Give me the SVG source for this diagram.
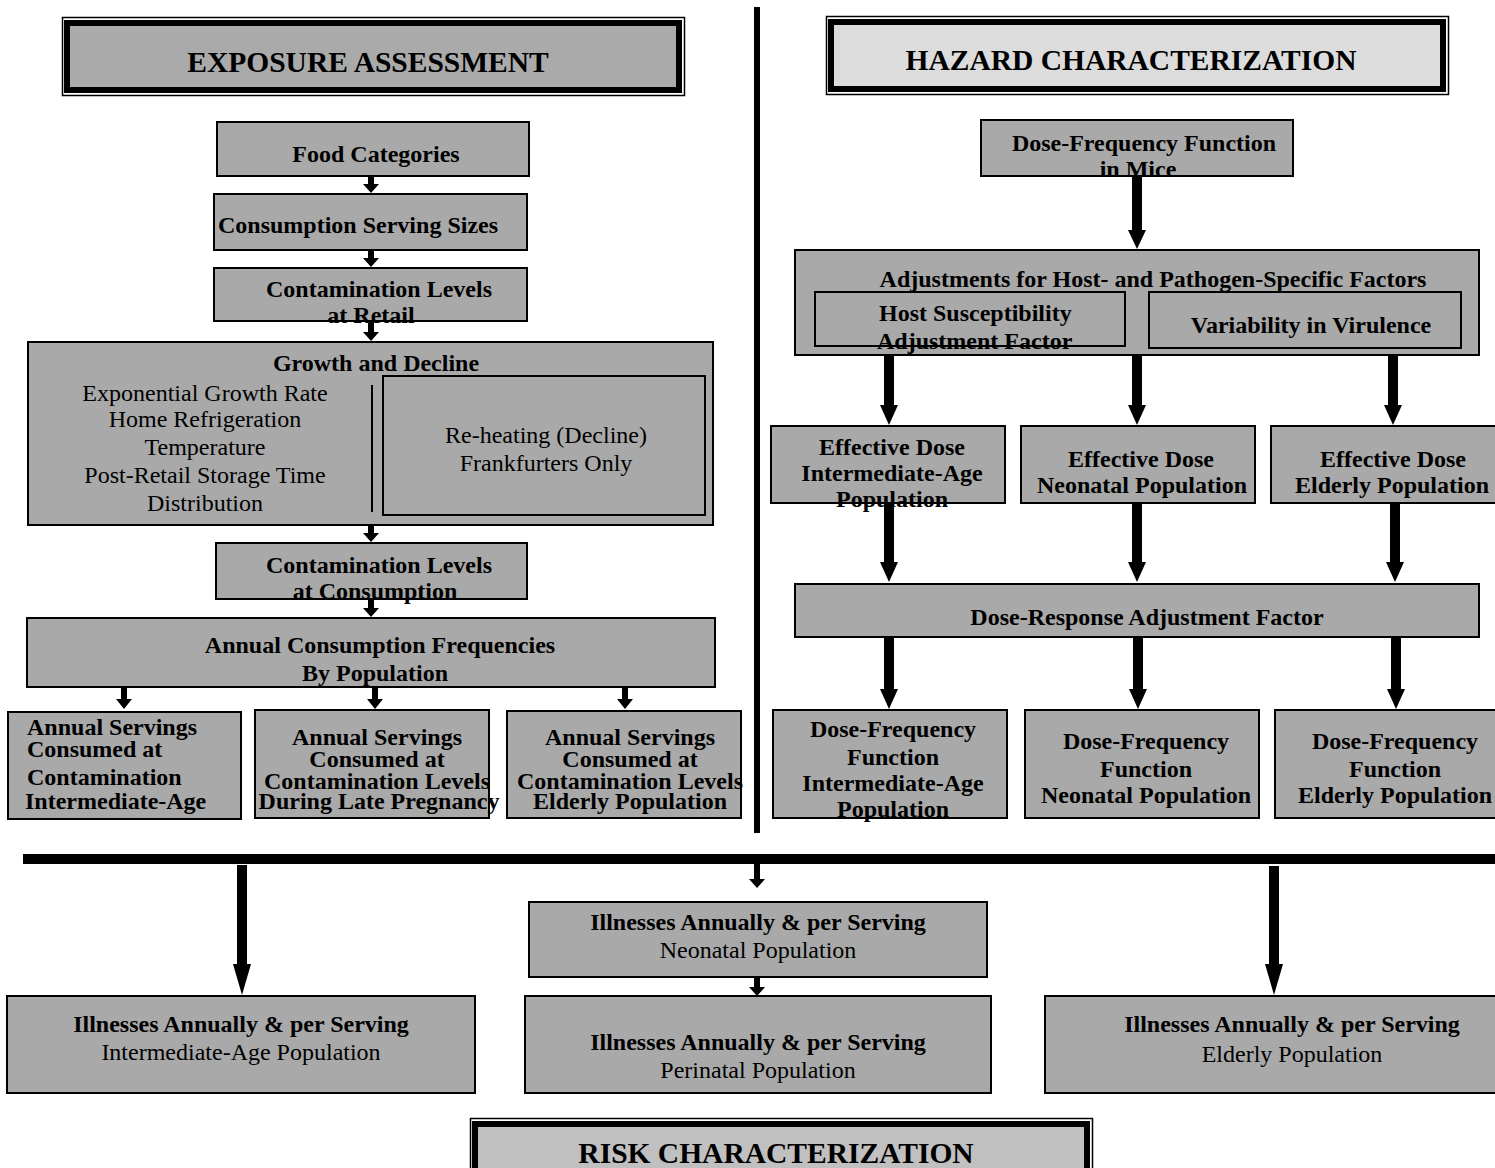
<svg xmlns="http://www.w3.org/2000/svg" width="1495" height="1168" viewBox="0 0 1495 1168">
<style>
.box{fill:#a9a9a9;stroke:#000;stroke-width:2}
.inner{fill:none;stroke:#000;stroke-width:2}
.b{font-family:"Liberation Serif",serif;font-weight:bold;font-size:24px;fill:#000}
.r{font-family:"Liberation Serif",serif;font-size:24px;fill:#000}
.hd{font-family:"Liberation Serif",serif;font-weight:bold;font-size:29.5px;fill:#000}
.c{text-anchor:middle}
.ar{fill:#000}
</style>
<rect width="1495" height="1168" fill="#fff"/>
<g id="connectors">
<rect x="754" y="7" width="6" height="826" class="ar"/>
<rect x="23" y="854" width="1472" height="10" class="ar"/>
<polygon class="ar" points="368,176 374,176 374,184 379,184 371,193 363,184 368,184"/>
<polygon class="ar" points="368,250 374,250 374,258 379,258 371,267 363,258 368,258"/>
<polygon class="ar" points="368,321 374,321 374,332 379,332 371,341 363,332 368,332"/>
<polygon class="ar" points="368,525 374,525 374,533 379,533 371,542 363,533 368,533"/>
<polygon class="ar" points="368,599 374,599 374,608 379,608 371,617 363,608 368,608"/>
<polygon class="ar" points="121,687 127,687 127,699 132,699 124,709 116,699 121,699"/>
<polygon class="ar" points="372,687 378,687 378,699 383,699 375,709 367,699 372,699"/>
<polygon class="ar" points="622,687 628,687 628,699 633,699 625,709 617,699 622,699"/>
<polygon class="ar" points="1132,176 1142,176 1142,230 1146,230 1137,249 1128,230 1132,230"/>
<polygon class="ar" points="884,355 894,355 894,405 898,405 889,425 880,405 884,405"/>
<polygon class="ar" points="1132,355 1142,355 1142,405 1146,405 1137,425 1128,405 1132,405"/>
<polygon class="ar" points="1388,355 1398,355 1398,405 1402,405 1393,425 1384,405 1388,405"/>
<polygon class="ar" points="884,503 894,503 894,562 898,562 889,582 880,562 884,562"/>
<polygon class="ar" points="1132,503 1142,503 1142,562 1146,562 1137,582 1128,562 1132,562"/>
<polygon class="ar" points="1390,503 1400,503 1400,562 1404,562 1395,582 1386,562 1390,562"/>
<polygon class="ar" points="884,637 894,637 894,689 898,689 889,709 880,689 884,689"/>
<polygon class="ar" points="1133,637 1143,637 1143,689 1147,689 1138,709 1129,689 1133,689"/>
<polygon class="ar" points="1391,637 1401,637 1401,689 1405,689 1396,709 1387,689 1391,689"/>
<polygon class="ar" points="237,865 247,865 247,964 251,964 242,995 233,964 237,964"/>
<polygon class="ar" points="1269,866 1279,866 1279,964 1283,964 1274,995 1265,964 1269,964"/>
<polygon class="ar" points="754,854 760,854 760,879 765,879 757,888 749,879 754,879"/>
<polygon class="ar" points="754,977 760,977 760,987 765,987 757,996 749,987 754,987"/>
</g>
<g id="exposure-header">
<rect x="62.5" y="17.5" width="622" height="78" fill="none" stroke="#000" stroke-width="1.5"/>
<rect x="67" y="23" width="612" height="67" fill="#aaa" stroke="#000" stroke-width="6"/>
<text x="368" y="72" class="hd c">EXPOSURE ASSESSMENT</text>
</g>
<g id="hazard-header">
<rect x="826.5" y="16.5" width="622" height="78" fill="none" stroke="#000" stroke-width="1.5"/>
<rect x="831" y="22" width="612" height="67" fill="#dcdcdc" stroke="#000" stroke-width="6"/>
<text x="1131" y="70" class="hd c">HAZARD CHARACTERIZATION</text>
</g>
<g id="food-categories">
<rect x="217" y="122" width="312" height="54" class="box"/>
<text x="376" y="162" class="b c">Food Categories</text>
</g>
<g id="serving-sizes">
<rect x="214" y="194" width="313" height="56" class="box"/>
<text x="218" y="233" class="b">Consumption Serving Sizes</text>
</g>
<g id="contamination-retail">
<rect x="214" y="268" width="313" height="53" class="box"/>
<text x="379" y="297" class="b c">Contamination Levels</text>
<text x="371" y="323" class="b c">at Retail</text>
</g>
<g id="growth-decline">
<rect x="28" y="342" width="685" height="183" class="box"/>
<text x="376" y="371" class="b c">Growth and Decline</text>
<text x="205" y="401" class="r c">Exponential Growth Rate</text>
<text x="205" y="427" class="r c">Home Refrigeration</text>
<text x="205" y="455" class="r c">Temperature</text>
<text x="205" y="483" class="r c">Post-Retail Storage Time</text>
<text x="205" y="511" class="r c">Distribution</text>
<line x1="372" y1="385" x2="372" y2="512" stroke="#000" stroke-width="2"/>
<rect x="383" y="376" width="322" height="139" class="inner"/>
<text x="546" y="443" class="r c">Re-heating (Decline)</text>
<text x="546" y="471" class="r c">Frankfurters Only</text>
</g>
<g id="contamination-consumption">
<rect x="216" y="543" width="311" height="56" class="box"/>
<text x="379" y="573" class="b c">Contamination Levels</text>
<text x="375" y="599" class="b c">at Consumption</text>
</g>
<g id="annual-frequencies">
<rect x="27" y="618" width="688" height="69" class="box"/>
<text x="380" y="653" class="b c">Annual Consumption Frequencies</text>
<text x="375" y="681" class="b c">By Population</text>
</g>
<g id="servings-intermediate">
<rect x="8" y="712" width="233" height="107" class="box"/>
<text x="27" y="735" class="b">Annual Servings</text>
<text x="27" y="757" class="b">Consumed at</text>
<text x="27" y="785" class="b">Contamination</text>
<text x="25" y="809" class="b">Intermediate-Age</text>
</g>
<g id="servings-pregnancy">
<rect x="255" y="710" width="234" height="108" class="box"/>
<text x="377" y="745" class="b c">Annual Servings</text>
<text x="377" y="767" class="b c">Consumed at</text>
<text x="377" y="789" class="b c">Contamination Levels</text>
<text x="379" y="809" class="b c">During Late Pregnancy</text>
</g>
<g id="servings-elderly">
<rect x="507" y="711" width="234" height="107" class="box"/>
<text x="630" y="745" class="b c">Annual Servings</text>
<text x="630" y="767" class="b c">Consumed at</text>
<text x="630" y="789" class="b c">Contamination Levels</text>
<text x="630" y="809" class="b c">Elderly Population</text>
</g>
<g id="dose-frequency-mice">
<rect x="981" y="120" width="312" height="56" class="box"/>
<text x="1144" y="151" class="b c">Dose-Frequency Function</text>
<text x="1138" y="177" class="b c">in Mice</text>
</g>
<g id="adjustments">
<rect x="795" y="250" width="684" height="105" class="box"/>
<text x="1153" y="287" class="b c">Adjustments for Host- and Pathogen-Specific Factors</text>
<rect x="815" y="292" width="310" height="54" class="inner"/>
<text x="879" y="321" class="b">Host Susceptibility</text>
<text x="877" y="349" class="b">Adjustment Factor</text>
<rect x="1149" y="292" width="312" height="56" class="inner"/>
<text x="1311" y="333" class="b c">Variability in Virulence</text>
</g>
<g id="effective-dose-intermediate">
<rect x="771" y="426" width="234" height="77" class="box"/>
<text x="892" y="455" class="b c">Effective Dose</text>
<text x="892" y="481" class="b c">Intermediate-Age</text>
<text x="892" y="507" class="b c">Population</text>
</g>
<g id="effective-dose-neonatal">
<rect x="1021" y="426" width="234" height="77" class="box"/>
<text x="1141" y="467" class="b c">Effective Dose</text>
<text x="1142" y="493" class="b c">Neonatal Population</text>
</g>
<g id="effective-dose-elderly">
<rect x="1271" y="426" width="226" height="77" class="box"/>
<text x="1393" y="467" class="b c">Effective Dose</text>
<text x="1392" y="493" class="b c">Elderly Population</text>
</g>
<g id="dose-response-adjustment">
<rect x="795" y="584" width="684" height="53" class="box"/>
<text x="1147" y="625" class="b c">Dose-Response Adjustment Factor</text>
</g>
<g id="dose-frequency-intermediate">
<rect x="773" y="710" width="234" height="108" class="box"/>
<text x="893" y="737" class="b c">Dose-Frequency</text>
<text x="893" y="765" class="b c">Function</text>
<text x="893" y="791" class="b c">Intermediate-Age</text>
<text x="893" y="817" class="b c">Population</text>
</g>
<g id="dose-frequency-neonatal">
<rect x="1025" y="710" width="234" height="108" class="box"/>
<text x="1146" y="749" class="b c">Dose-Frequency</text>
<text x="1146" y="777" class="b c">Function</text>
<text x="1146" y="803" class="b c">Neonatal Population</text>
</g>
<g id="dose-frequency-elderly">
<rect x="1275" y="710" width="222" height="108" class="box"/>
<text x="1395" y="749" class="b c">Dose-Frequency</text>
<text x="1395" y="777" class="b c">Function</text>
<text x="1395" y="803" class="b c">Elderly Population</text>
</g>
<g id="illnesses-neonatal">
<rect x="529" y="902" width="458" height="75" class="box"/>
<text x="758" y="930" class="b c">Illnesses Annually &amp; per Serving</text>
<text x="758" y="958" class="r c">Neonatal Population</text>
</g>
<g id="illnesses-intermediate">
<rect x="7" y="996" width="468" height="97" class="box"/>
<text x="241" y="1032" class="b c">Illnesses Annually &amp; per Serving</text>
<text x="241" y="1060" class="r c">Intermediate-Age Population</text>
</g>
<g id="illnesses-perinatal">
<rect x="525" y="996" width="466" height="97" class="box"/>
<text x="758" y="1050" class="b c">Illnesses Annually &amp; per Serving</text>
<text x="758" y="1078" class="r c">Perinatal Population</text>
</g>
<g id="illnesses-elderly">
<rect x="1045" y="996" width="452" height="97" class="box"/>
<text x="1292" y="1032" class="b c">Illnesses Annually &amp; per Serving</text>
<text x="1292" y="1062" class="r c">Elderly Population</text>
</g>
<g id="risk-header">
<rect x="470.5" y="1118.5" width="622" height="60" fill="none" stroke="#000" stroke-width="1.5"/>
<rect x="475" y="1124" width="612" height="60" fill="#c0c0c0" stroke="#000" stroke-width="6"/>
<text x="776" y="1163" class="hd c">RISK CHARACTERIZATION</text>
</g>
</svg>
